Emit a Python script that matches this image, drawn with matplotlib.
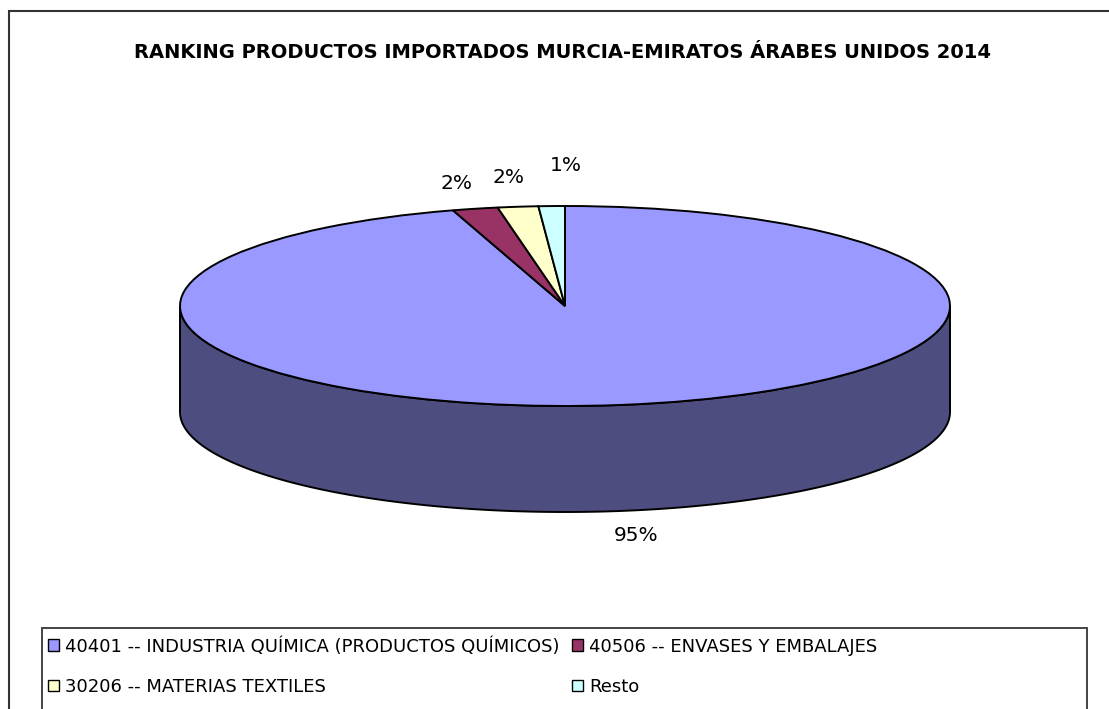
import numpy as np
import matplotlib
matplotlib.use("Agg")
import matplotlib.pyplot as plt
from matplotlib.patches import Polygon, Patch, Rectangle

# ---- data ----
categories = ["40401 -- INDUSTRIA QUÍMICA (PRODUCTOS QUÍMICOS)",
              "40506 -- ENVASES Y EMBALAJES",
              "30206 -- MATERIAS TEXTILES",
              "Resto"]
values = [95.3, 1.9, 1.7, 1.1]
pct_labels = ["95%", "2%", "2%", "1%"]
title = "RANKING PRODUCTOS IMPORTADOS MURCIA-EMIRATOS ÁRABES UNIDOS 2014"

# ---- style ----
top_colors = ["#9999FF", "#993366", "#FFFFCC", "#CCFFFF"]
side_shade = 0.5
label_radius = [1.25, 1.26, 1.29, 1.41]
label_dx = [0.0, 0.012, 0.012, 0.05]

plt.rcParams["font.family"] = ["DejaVu Sans"]

W, H = 1109, 709
fig = plt.figure(figsize=(W / 100, H / 100), dpi=100)

# pixel geometry of the pie
cx, cy, a, b = 565, 306, 385, 100
depth = 1.06  # in units of semi-minor axis

ax = fig.add_axes([0, 0, 1, 1])
wedges, _ = ax.pie(values, startangle=90, counterclock=False, colors=top_colors,
                   radius=1, center=(0, 0),
                   wedgeprops=dict(edgecolor="black", linewidth=1.4, zorder=3))
ax.set_aspect("auto")
ax.set_xlim(-cx / a, (W - cx) / a)
ax.set_ylim((cy - H) / b, cy / b)
ax.axis("off")

# side walls (front half only), computed from wedge angles
for w, col in zip(wedges, top_colors):
    t1, t2 = sorted([w.theta1, w.theta2])
    for k in (-360, 0, 360):
        lo = max(t1 + k, 180)
        hi = min(t2 + k, 360)
        if hi > lo:
            th = np.radians(np.linspace(lo, hi, 200))
            xs = np.cos(th)
            ys = np.sin(th)
            pts = np.vstack([np.column_stack([xs, ys]),
                             np.column_stack([xs[::-1], ys[::-1] - depth])])
            rgb = np.array(matplotlib.colors.to_rgb(col)) * side_shade
            ax.add_patch(Polygon(pts, closed=True, facecolor=rgb,
                                 edgecolor="black", linewidth=1.4, zorder=2))

# percentage labels
for w, lab, r, dx in zip(wedges, pct_labels, label_radius, label_dx):
    mid = np.radians((w.theta1 + w.theta2) / 2)
    x, y = r * np.cos(mid) + dx, r * np.sin(mid)
    if y < 0:
        y -= depth
    ax.text(x, y, lab, ha="center", va="center", fontsize=14.5, color="black")

# title
fig.text(563 / W, 1 - 52 / H, title, ha="center", va="center",
         fontsize=14, fontweight="bold")

# outer chart border
fig.patches.append(Rectangle((9 / W, -0.05), 1.1, 1 - 11 / H + 0.05,
                             transform=fig.transFigure, fill=False,
                             edgecolor="#333333", linewidth=1.5))

# legend frame
fig.patches.append(Rectangle((42 / W, -0.05), (1087 - 42) / W, 1 - 628 / H + 0.05,
                             transform=fig.transFigure, fill=False,
                             edgecolor="#444444", linewidth=1.4, zorder=5))

# legend (row-wise order: matplotlib fills column-wise)
handles = [Patch(facecolor=c, edgecolor="black", linewidth=1) for c in top_colors]
order = [0, 2, 1, 3]
leg = fig.legend([handles[i] for i in order], [categories[i] for i in order],
                 ncol=2, loc="upper left",
                 bbox_to_anchor=(48 / W, 1 - 637 / H),
                 frameon=False, fontsize=13, handlelength=0.6,
                 handleheight=0.6, handletextpad=0.35, borderpad=0,
                 labelspacing=1.25, columnspacing=0.7, borderaxespad=0)

fig.savefig("out.png", dpi=100, facecolor="white")
